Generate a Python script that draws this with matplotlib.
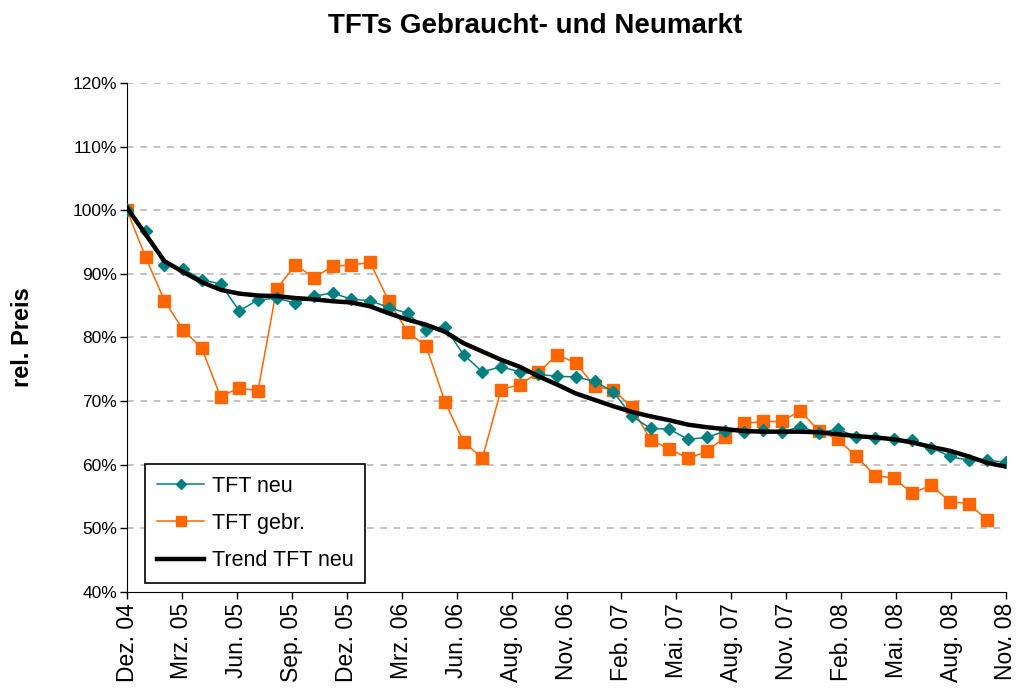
import matplotlib
matplotlib.use("Agg")
import matplotlib.pyplot as plt
import numpy as np

plt.rcParams['font.family'] = ['Liberation Sans', 'DejaVu Sans']

tick_labels = ["Dez. 04", "Mrz. 05", "Jun. 05", "Sep. 05", "Dez. 05", "Mrz. 06",
               "Jun. 06", "Aug. 06", "Nov. 06", "Feb. 07", "Mai. 07", "Aug. 07",
               "Nov. 07", "Feb. 08", "Mai. 08", "Aug. 08", "Nov. 08"]

tft_neu = [100, 96.7, 91.4, 90.8, 89.1, 88.4, 84.2, 85.9, 86.2, 85.4, 86.5, 87.0,
           86.0, 85.8, 84.7, 83.8, 81.2, 81.6, 77.3, 74.6, 75.4, 74.6, 74.2, 73.9,
           73.8, 73.1, 71.5, 67.6, 65.7, 65.6, 64.0, 64.3, 65.3, 65.2, 65.5, 65.1,
           66.0, 65.0, 65.6, 64.4, 64.2, 64.0, 63.9, 62.7, 61.3, 60.7, 60.7, 60.4]

tft_gebr = [100, 92.6, 85.8, 81.2, 78.3, 70.7, 72.1, 71.6, 87.6, 91.4, 89.4, 91.2,
            91.4, 91.8, 85.7, 80.9, 78.6, 69.9, 63.6, 61.0, 71.8, 72.6, 74.5, 77.3,
            76.0, 72.3, 71.8, 69.0, 63.9, 62.5, 61.0, 62.1, 64.4, 66.5, 66.8, 66.8,
            68.5, 65.3, 64.0, 61.3, 58.3, 57.9, 55.5, 56.8, 54.2, 53.9, 51.3]

trend_neu = [100.4, 96.2, 92.0, 90.3, 88.7, 87.5, 86.9, 86.6, 86.5, 86.2, 86.0, 85.7,
             85.5, 84.9, 83.8, 82.8, 82.0, 80.9, 79.1, 77.8, 76.5, 75.4, 73.9, 72.6,
             71.2, 70.2, 69.2, 68.3, 67.6, 67.0, 66.3, 65.9, 65.6, 65.3, 65.2, 65.2,
             65.2, 65.1, 64.8, 64.5, 64.3, 64.0, 63.5, 62.8, 62.2, 61.3, 60.3, 59.7]

W, H = 1017, 696
fig = plt.figure(figsize=(W / 100, H / 100), dpi=100)
ax = fig.add_axes([127 / W, 1 - 592 / H, (1006 - 127) / W, (592 - 83) / H])

x_neu = np.arange(len(tft_neu))
x_gebr = np.arange(len(tft_gebr))
x_trend = np.arange(len(trend_neu))

teal = '#008080'
orange = '#FF6600'

ax.plot(x_gebr, tft_gebr, color=orange, lw=1.1, marker='s', ms=8,
        markeredgecolor=orange, markerfacecolor=orange, label='TFT gebr.', zorder=3)
ax.plot(x_neu, tft_neu, color=teal, lw=1.1, marker='D', ms=6.5,
        markeredgecolor=teal, markerfacecolor=teal, label='TFT neu', zorder=4)
ax.plot(x_trend, trend_neu, color='black', lw=3.2, label='Trend TFT neu', zorder=5)

n = len(tft_neu) - 1
ax.set_xlim(0, n)
ax.set_ylim(40, 120)
ax.set_xticks(np.linspace(0, n, len(tick_labels)))
ax.set_xticklabels(tick_labels, rotation=90, fontsize=16.5)
yt = np.arange(40, 121, 10)
ax.set_yticks(yt)
ax.set_yticklabels([f"{v}%" for v in yt], fontsize=12.5)

for v in yt[1:]:
    ax.axhline(v, color='#b8b8b8', lw=1.2, ls=(0, (4, 4)), zorder=1)

for s in ['top', 'right']:
    ax.spines[s].set_visible(False)
ax.spines['left'].set_color('black')
ax.spines['bottom'].set_color('black')
ax.tick_params(axis='both', direction='out', length=5, width=1, color='black')
ax.tick_params(axis='y', pad=2)
ax.tick_params(axis='x', pad=3)

ax.set_ylabel('rel. Preis', fontsize=17, fontweight='bold', labelpad=28)
fig.text(535 / W, 1 - 26 / H, 'TFTs Gebraucht- und Neumarkt', ha='center', va='center',
         fontsize=20, fontweight='bold')

h, l = ax.get_legend_handles_labels()
order = [1, 0, 2]
leg = ax.legend([h[i] for i in order], [l[i] for i in order], loc='lower left',
                bbox_to_anchor=(18 / 879, 9 / 509), borderaxespad=0, fontsize=15.5,
                frameon=True, fancybox=False, edgecolor='black', framealpha=1,
                handlelength=2.2, handletextpad=0.35, labelspacing=0.75,
                borderpad=0.55, markerscale=0.85)
leg.get_frame().set_linewidth(1.2)

fig.savefig('out.png', dpi=100, facecolor='white')
